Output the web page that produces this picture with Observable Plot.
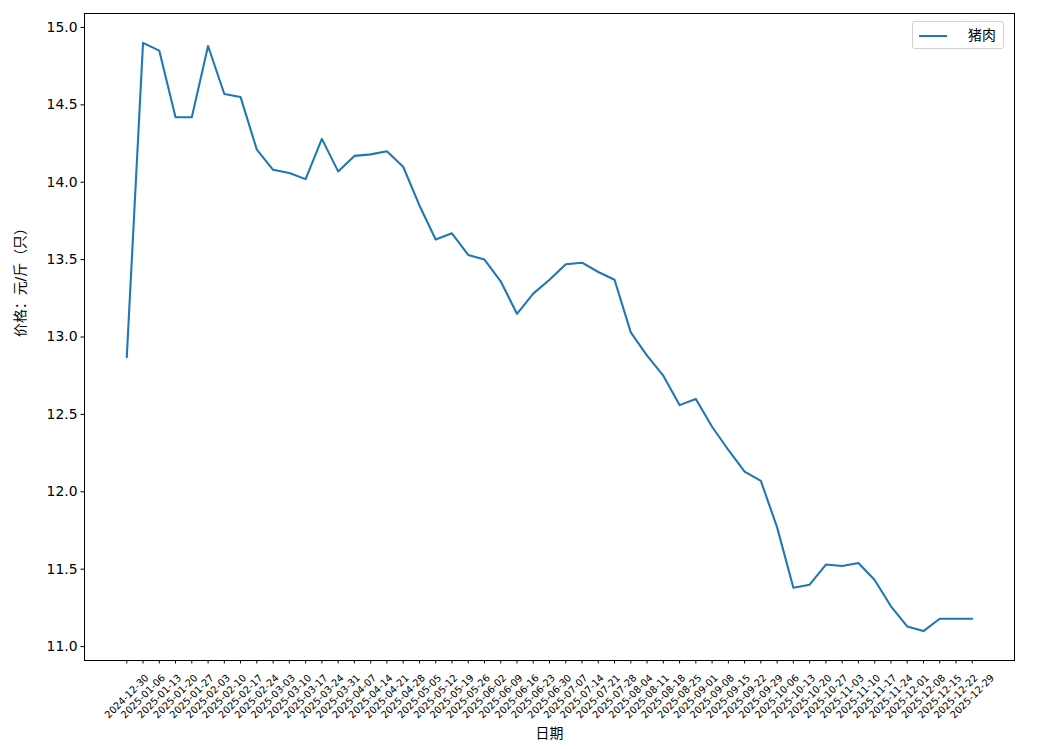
<!DOCTYPE html>
<html>
<head>
<meta charset="utf-8">
<script src="https://cdn.jsdelivr.net/npm/d3@7"></script>
<script src="https://cdn.jsdelivr.net/npm/@observablehq/plot@0.6"></script>
<style>
  html, body { margin: 0; padding: 0; background: white; }
  #wrap { position: relative; width: 1058px; height: 749px; font-family: "DejaVu Sans", "Noto Sans CJK SC", sans-serif; }
  #legend { position: absolute; left: 912px; top: 21px; width: 92px; height: 28px; border: 1px solid #d0d0d0; border-radius: 3px; background: rgba(255,255,255,0.8); box-sizing: border-box; }
  #legend .swatch { position: absolute; left: 6px; top: 13px; width: 28px; height: 2px; background: #1f77b4; }
  #legend .lbl { position: absolute; left: 55px; top: 4px; font-size: 13.9px; line-height: 18px; color: black; }
</style>
</head>
<body>
<div id="wrap"></div>
<script>
const dates = [
  "2024-12-30","2025-01-06","2025-01-13","2025-01-20","2025-01-27","2025-02-03","2025-02-10","2025-02-17","2025-02-24",
  "2025-03-03","2025-03-10","2025-03-17","2025-03-24","2025-03-31","2025-04-07","2025-04-14","2025-04-21","2025-04-28",
  "2025-05-05","2025-05-12","2025-05-19","2025-05-26","2025-06-02","2025-06-09","2025-06-16","2025-06-23","2025-06-30",
  "2025-07-07","2025-07-14","2025-07-21","2025-07-28","2025-08-04","2025-08-11","2025-08-18","2025-08-25","2025-09-01",
  "2025-09-08","2025-09-15","2025-09-22","2025-09-29","2025-10-06","2025-10-13","2025-10-20","2025-10-27","2025-11-03",
  "2025-11-10","2025-11-17","2025-11-24","2025-12-01","2025-12-08","2025-12-15","2025-12-22","2025-12-29"
];
const pork = [
  12.87, 14.90, 14.85, 14.42, 14.42, 14.88, 14.57, 14.55, 14.21,
  14.08, 14.06, 14.02, 14.28, 14.07, 14.17, 14.18, 14.20, 14.10,
  13.85, 13.63, 13.67, 13.53, 13.50, 13.36, 13.15, 13.28, 13.37,
  13.47, 13.48, 13.42, 13.37, 13.03, 12.88, 12.75, 12.56, 12.60,
  12.42, 12.27, 12.13, 12.07, 11.77, 11.38, 11.40, 11.53, 11.52,
  11.54, 11.43, 11.26, 11.13, 11.10, 11.18, 11.18, 11.18
];
const yTicks = [11.0, 11.5, 12.0, 12.5, 13.0, 13.5, 14.0, 14.5, 15.0];
const seriesName = "猪肉";
const xTitle = "日期";
const yTitle = "价格：元/斤（只）";

const data = dates.map((d, i) => ({date: d, price: pork[i]}));

const chart = Plot.plot({
  width: 1058,
  height: 749,
  marginLeft: 84,
  marginRight: 44,
  marginTop: 13,
  marginBottom: 89,
  style: {fontFamily: '"DejaVu Sans", "Noto Sans CJK SC", sans-serif', fontSize: "13.9px", color: "black", background: "white"},
  x: {type: "point", domain: dates, padding: 2.6, round: false, label: null},
  y: {domain: [10.91, 15.09], label: null},
  marks: [
    Plot.frame({stroke: "black", strokeWidth: 1}),
    Plot.axisY({ticks: yTicks, tickFormat: d3.format(".1f"), tickSize: 3.5, tickPadding: 3.5, fontSize: 13.9, label: null, strokeWidth: 1}),
    Plot.axisX({tickSize: 3.5, tickFormat: () => "", label: null, strokeWidth: 1}),
    Plot.text(dates, {x: d => d, text: d => d, frameAnchor: "bottom", dy: 36, rotate: -45, fontSize: 9.9, textAnchor: "middle", lineAnchor: "middle"}),
    Plot.text([yTitle], {frameAnchor: "left", dx: -64, rotate: -90, fontSize: 13.9}),
    Plot.text([xTitle], {frameAnchor: "bottom", dy: 77, fontSize: 13.9}),
    Plot.line(data, {x: "date", y: "price", stroke: "#1f77b4", strokeWidth: 2.08})
  ]
});

const wrap = document.getElementById("wrap");
wrap.appendChild(chart);
const legend = document.createElement("div");
legend.id = "legend";
legend.innerHTML = '<div class="swatch"></div><div class="lbl"></div>';
legend.querySelector(".lbl").textContent = seriesName;
wrap.appendChild(legend);
</script>
</body>
</html>
